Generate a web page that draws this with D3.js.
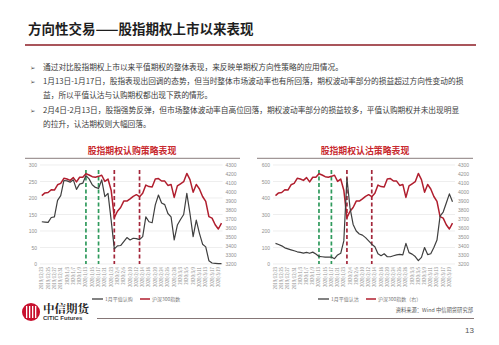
<!DOCTYPE html>
<html>
<head>
<meta charset="utf-8">
<script src="https://d3js.org/d3.v7.min.js"></script>
<style>
  body { margin: 0; background: #fff; }
  svg { display: block; font-family: "Noto Sans CJK SC", "Noto Sans", sans-serif; }
  .grid line { stroke: #e2e2e2; stroke-width: 0.6px; }
  .axis text { fill: #909090; font-size: 5px; }
  .xlab { fill: #909090; font-size: 4.3px; }
</style>
</head>
<body>
<svg width="499" height="345"></svg>
<script>
// trading days shown on the x axis
var dates = ["2019/12/23","2019/12/24","2019/12/25","2019/12/26","2019/12/27","2019/12/30","2019/12/31",
  "2020/1/2","2020/1/3","2020/1/6","2020/1/7","2020/1/8","2020/1/9","2020/1/10","2020/1/13","2020/1/14",
  "2020/1/15","2020/1/16","2020/1/17","2020/1/20","2020/1/21","2020/1/22","2020/1/23",
  "2020/2/3","2020/2/4","2020/2/5","2020/2/6","2020/2/7","2020/2/10","2020/2/11","2020/2/12","2020/2/13",
  "2020/2/14","2020/2/17","2020/2/18","2020/2/19","2020/2/20","2020/2/21","2020/2/24","2020/2/25",
  "2020/2/26","2020/2/27","2020/2/28","2020/3/2","2020/3/3","2020/3/4","2020/3/5","2020/3/6",
  "2020/3/9","2020/3/10","2020/3/11","2020/3/12","2020/3/13","2020/3/16","2020/3/17","2020/3/18",
  "2020/3/19","2020/3/20"];

var csi300 = [3960,3990,3995,4025,4022,4080,4096,4152,4144,4129,4160,4112,4164,4163,4203,4189,
  4170,4165,4174,4186,4118,4144,4020,3715,3786,3828,3899,3899,3924,3952,3970,3948,3987,4077,4060,
  4056,4144,4149,4122,4121,4073,4084,3940,4068,4091,4115,4206,4138,3998,4084,4033,3950,3895,3727,
  3709,3636,3589,3653];

var callATM = [128,127,126,141,143,193,207,253,252,248,255,226,242,245,268,258,240,232,229,255,
  204,214,133,46,55,56,68,80,73,78,77,74,83,143,128,125,179,209,185,180,153,143,73,118,135,150,
  214,153,83,133,93,60,52,10,3,2,1,1];

var putATM = [125,118,110,98,92,86,80,74,70,66,70,65,72,60,46,44,42,42,42,32,55,65,140,520,340,
  240,200,182,175,160,140,120,105,62,50,62,44,44,50,55,58,55,125,69,60,45,20,40,100,57,62,100,
  145,290,315,370,425,377];

var greenDates = ["2020/1/13", "2020/1/17"];
var redDates = ["2020/2/3", "2020/2/13"];
var callTicks = [0, 50, 100, 150, 200, 250, 300];
var putTicks = [0, 100, 200, 300, 400, 500, 600];
var indexTicks = [3200, 3300, 3400, 3500, 3600, 3700, 3800, 3900, 4000, 4100, 4200, 4300];

var bullets = [
  ["通过对比股指期权上市以来平值期权的整体表现，来反映单期权方向性策略的应用情况。"],
  ["1月13日-1月17日，股指表现出回调的态势，但当时整体市场波动率也有所回落，期权波动率部分的损益超过方向性变动的损",
   "益，所以平值认沽与认购期权都出现下跌的情形。"],
  ["2月4日-2月13日，股指强势反弹，但市场整体波动率自高位回落，期权波动率部分的损益较多，平值认购期权并未出现明显",
   "的拉升，认沽期权则大幅回落。"]
];

var svg = d3.select("svg");

// page title
svg.append("text").attr("x", 28).attr("y", 34)
  .attr("font-size", 13.5).attr("font-weight", "bold").attr("fill", "#1e1e1e")
  .text("方向性交易——股指期权上市以来表现");
svg.append("line").attr("x1", 25).attr("x2", 476).attr("y1", 45).attr("y2", 45)
  .attr("stroke", "#8c1c24").attr("stroke-width", 1.6);

// bullet text
var by = 70;
bullets.forEach(function(b) {
  svg.append("text").attr("x", 30).attr("y", by).attr("font-size", 6.5)
    .attr("fill", "#555").attr("font-family", "DejaVu Sans").text("➢");
  b.forEach(function(line) {
    svg.append("text").attr("x", 43).attr("y", by).attr("font-size", 7.7)
      .attr("fill", "#3a3a3a").text(line);
    by += 14.2;
  });
});

function drawChart(cfg) {
  var g = svg.append("g");
  var x = d3.scalePoint().domain(dates).range([cfg.x0, cfg.x1]);
  var yL = d3.scaleLinear().domain([0, cfg.leftMax]).range([264, 165]);
  var yR = d3.scaleLinear().domain([3200, 4300]).range([264, 165]);

  // title + rule
  g.append("text").attr("x", cfg.titleX).attr("y", 154).attr("text-anchor", "middle")
    .attr("font-size", 8.9).attr("font-weight", "bold").attr("fill", "#c8282e")
    .text(cfg.title);
  g.append("line").attr("x1", cfg.ruleX0).attr("x2", cfg.ruleX1)
    .attr("y1", 158.3).attr("y2", 158.3).attr("stroke", "#7d6e6e").attr("stroke-width", 0.9);

  // grid
  g.append("g").attr("class", "grid").selectAll("line").data(cfg.leftTicks).enter()
    .append("line")
    .attr("x1", cfg.gx0).attr("x2", cfg.gx1)
    .attr("y1", function(d) { return yL(d); }).attr("y2", function(d) { return yL(d); });

  var axL = g.append("g").attr("class", "axis")
    .attr("transform", "translate(" + (cfg.gx0 - 3) + ",0)")
    .call(d3.axisLeft(yL).tickValues(cfg.leftTicks).tickSize(0).tickPadding(0).tickFormat(d3.format("d")));
  axL.select(".domain").remove();

  var axR = g.append("g").attr("class", "axis")
    .attr("transform", "translate(" + (cfg.gx1 + 3) + ",0)")
    .call(d3.axisRight(yR).tickValues(indexTicks).tickSize(0).tickPadding(0).tickFormat(d3.format("d")));
  axR.select(".domain").remove();

  // x labels, every other day
  g.selectAll("text.xlab").data(dates.filter(function(d, i) { return i % 2 === 0; }))
    .enter().append("text").attr("class", "xlab")
    .attr("transform", function(d) { return "translate(" + (x(d) + 1.5) + ",267) rotate(-90)"; })
    .attr("text-anchor", "end").text(function(d) { return d; });

  // event markers
  g.selectAll("line.green").data(greenDates).enter().append("line")
    .attr("x1", function(d) { return x(d); }).attr("x2", function(d) { return x(d); })
    .attr("y1", 170).attr("y2", 264)
    .attr("stroke", "#2f9a5c").attr("stroke-width", 1.7).attr("stroke-dasharray", "4,2.5");
  g.selectAll("line.red").data(redDates).enter().append("line")
    .attr("x1", function(d) { return x(d); }).attr("x2", function(d) { return x(d); })
    .attr("y1", 170).attr("y2", 264)
    .attr("stroke", "#a3263a").attr("stroke-width", 1.7).attr("stroke-dasharray", "4,2.5");

  var lineL = d3.line().x(function(d, i) { return x(dates[i]); }).y(function(d) { return yL(d); });
  var lineR = d3.line().x(function(d, i) { return x(dates[i]); }).y(function(d) { return yR(d); });

  g.append("path").attr("d", lineR(csi300)).attr("fill", "none")
    .attr("stroke", "#b01e2e").attr("stroke-width", 1.5).attr("stroke-linejoin", "round");
  g.append("path").attr("d", lineL(cfg.series)).attr("fill", "none")
    .attr("stroke", "#3f3f3f").attr("stroke-width", 1.2).attr("stroke-linejoin", "round");

  // legend
  var lx = cfg.legendX;
  g.append("line").attr("x1", lx).attr("x2", lx + 11).attr("y1", 299).attr("y2", 299)
    .attr("stroke", "#3f3f3f").attr("stroke-width", 1.3);
  g.append("text").attr("x", lx + 13).attr("y", 300.8).attr("font-size", 5).attr("fill", "#777")
    .text(cfg.legend[0]);
  g.append("line").attr("x1", lx + 48).attr("x2", lx + 58).attr("y1", 299).attr("y2", 299)
    .attr("stroke", "#b01e2e").attr("stroke-width", 1.5);
  g.append("text").attr("x", lx + 60).attr("y", 300.8).attr("font-size", 5).attr("fill", "#777")
    .text(cfg.legend[1]);
}

drawChart({
  x0: 41.8, x1: 221.5, gx0: 40, gx1: 222.5, leftMax: 300, leftTicks: callTicks,
  series: callATM, title: "股指期权认购策略表现", titleX: 132, ruleX0: 25, ruleX1: 240,
  legend: ["1月平值认购", "沪深300指数"], legendX: 92
});
drawChart({
  x0: 275.5, x1: 452.5, gx0: 273, gx1: 455, leftMax: 600, leftTicks: putTicks,
  series: putATM, title: "股指期权认沽策略表现", titleX: 365, ruleX0: 257, ruleX1: 473,
  legend: ["1月平值认沽", "沪深300指数（右）"], legendX: 318
});

// footer
var logo = svg.append("g");
logo.append("circle").attr("cx", 31).attr("cy", 312).attr("r", 9).attr("fill", "#c8102e");
logo.selectAll("rect").data([-5, -2, 1, 4]).enter().append("rect")
  .attr("x", function(d) { return 31 + d; }).attr("y", 306).attr("width", 1.3).attr("height", 12)
  .attr("fill", "#fff");
svg.append("text").attr("x", 43).attr("y", 313).attr("font-size", 11.5).attr("font-weight", "bold")
  .attr("font-family", "Noto Serif CJK SC, Noto Sans CJK SC, serif").attr("fill", "#222").text("中信期货");
svg.append("text").attr("x", 43).attr("y", 320).attr("font-size", 6).attr("font-weight", "bold")
  .attr("font-family", "Liberation Sans, Arial").attr("fill", "#333").text("CITIC Futures");
svg.append("line").attr("x1", 97).attr("x2", 474).attr("y1", 318.5).attr("y2", 318.5)
  .attr("stroke", "#857676").attr("stroke-width", 1.2);
svg.append("text").attr("x", 473).attr("y", 312).attr("text-anchor", "end").attr("font-size", 5.3)
  .attr("fill", "#555").text("资料来源：Wind 中信期货研究部");
svg.append("text").attr("x", 474).attr("y", 333).attr("text-anchor", "end").attr("font-size", 8)
  .attr("font-family", "Liberation Sans, Arial").attr("fill", "#555").text("13");
</script>
</body>
</html>
